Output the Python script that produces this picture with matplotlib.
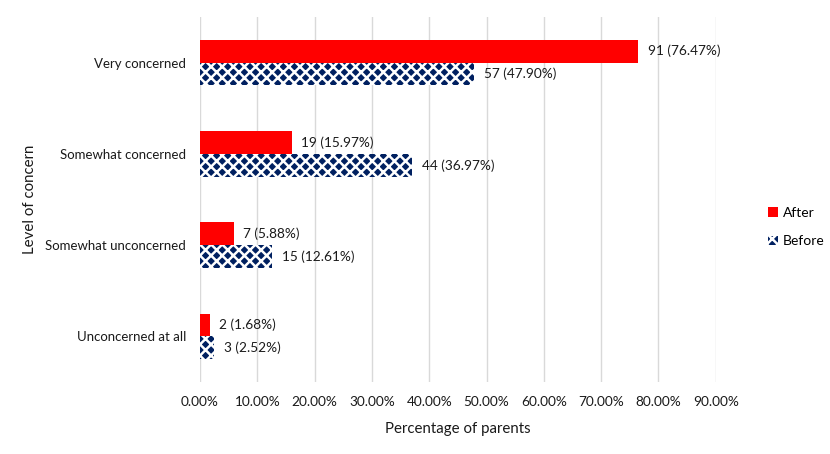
import matplotlib
matplotlib.use("Agg")
import matplotlib.pyplot as plt
from matplotlib.patches import Patch

plt.rcParams['font.family'] = ['Lato', 'DejaVu Sans']
plt.rcParams['hatch.linewidth'] = 1.8

categories = ["Very concerned", "Somewhat concerned", "Somewhat unconcerned", "Unconcerned at all"]
after_counts = [91, 19, 7, 2]
after_pct = [76.47, 15.97, 5.88, 1.68]
before_counts = [57, 44, 15, 3]
before_pct = [47.90, 36.97, 12.61, 2.52]
xticks = [0, 10, 20, 30, 40, 50, 60, 70, 80, 90]

RED = "#FF0000"
NAVY = "#002060"
TXT = "#1A1A1A"
FS = 9.5

fig = plt.figure(figsize=(8.3, 4.54), dpi=100)
ax = fig.add_axes([0.241, 0.1586, 0.8623 - 0.241, 0.9626 - 0.1586])

pos = list(range(len(categories)))
h = 0.25
ax.barh([p - h / 2 for p in pos], after_pct, height=h, color=RED, zorder=3, linewidth=0)
ax.barh([p + h / 2 for p in pos], before_pct, height=h, facecolor=NAVY, edgecolor="white",
        hatch="xxx", linewidth=0, zorder=3)

for p, c, v in zip(pos, after_counts, after_pct):
    ax.text(v + 1.7, p - h / 2, f"{c} ({v:.2f}%)", va="center", ha="left", fontsize=FS + 0.3, color=TXT)
for p, c, v in zip(pos, before_counts, before_pct):
    ax.text(v + 1.7, p + h / 2, f"{c} ({v:.2f}%)", va="center", ha="left", fontsize=FS + 0.3, color=TXT)

ax.set_ylim(len(categories) - 0.5, -0.5)
ax.set_xlim(0, 90)
ax.set_yticks(pos)
ax.set_yticklabels(categories, fontsize=FS, color=TXT)
ax.set_xticks(xticks)
ax.set_xticklabels([f"{t:.2f}%" for t in xticks], fontsize=FS + 0.3, color=TXT)
ax.tick_params(axis='both', length=0)
ax.tick_params(axis='x', pad=10)
ax.tick_params(axis='y', pad=10)
for s in ax.spines.values():
    s.set_visible(False)
ax.xaxis.grid(True, color="#D9D9D9", linewidth=1, zorder=0)
ax.set_axisbelow(True)

ax.set_xlabel("Percentage of parents", fontsize=10.8, color=TXT, labelpad=10)
ax.set_ylabel("Level of concern", fontsize=10.8, color=TXT)
ax.yaxis.set_label_coords((37 - 200) / 516.0, 0.5)

handles = [Patch(facecolor=RED, edgecolor="none"),
           Patch(facecolor=NAVY, edgecolor="white", hatch="xxx", linewidth=0)]
fig.legend(handles, ["After", "Before"], loc="center left", bbox_to_anchor=(0.91, 0.50),
           frameon=False, fontsize=10, handlelength=0.7, handleheight=0.7,
           handletextpad=0.4, labelspacing=1.2)

fig.savefig("out.png", dpi=100)
